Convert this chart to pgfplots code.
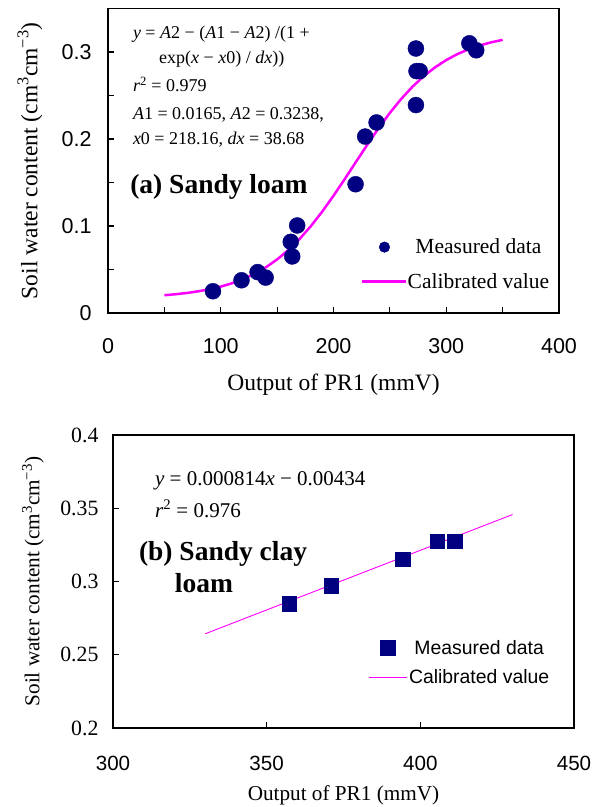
\documentclass[border=0pt]{standalone}
\usepackage{pgfplots}
\pgfplotsset{compat=1.18}
\usepackage{fontspec}
\setmainfont{Liberation Serif}
\newfontfamily\arial{Liberation Sans}
\definecolor{navy}{RGB}{0,0,128}
\definecolor{mag}{RGB}{255,0,255}
\pgfplotsset{
  leglineA/.style={legend image code/.code={\draw[##1] (0pt,0pt) -- (44pt,0pt);}},
  legmarkA/.style={legend image code/.code={\draw[##1, mark size=5.3pt] plot coordinates {(22pt,0pt)};}},
  leglineB/.style={legend image code/.code={\draw[##1] (0pt,0pt) -- (38pt,0pt);}},
  legmarkB/.style={legend image code/.code={\draw[##1] plot coordinates {(19pt,0pt)};}},
}
\begin{document}
\begin{tikzpicture}
\path[use as bounding box] (0,0) rectangle (597pt,807pt);
% ---------------- (a) Sandy loam ----------------
\begin{axis}[
  scale only axis, width=451pt, height=304.5pt,
  at={(108pt,494pt)}, anchor=south west,
  xmin=0, xmax=400, ymin=0, ymax=0.35,
  xtick={0,100,200,300,400}, xticklabels={0,100,200,300,400},
  minor xtick={50,150,250,350},
  ytick={0,0.1,0.2,0.3}, yticklabels={0,0.1,0.2,0.3},
  minor ytick={0.05,0.15,0.25},
  tick pos=left, tick align=inside,
  major tick length=6pt, minor tick length=6pt,
  axis line style={line width=1.3pt},
  tick style={line width=1.1pt, black},
  ticklabel style={font=\arial\fontsize{21.5}{24}\selectfont},
  xticklabel style={yshift=-22pt},
  yticklabel style={xshift=-13pt},
  xlabel={Output of PR1 (mmV)},
  ylabel={Soil water content (cm\textsuperscript{3}cm\textsuperscript{−3})},
  label style={font=\fontsize{23.5}{26}\selectfont},
  xlabel style={at={(axis description cs:0.5,-0.235)}, anchor=center},
  ylabel style={at={(axis description cs:-0.173,0.5)}, anchor=center},
  reverse legend,
  legend style={at={(axis description cs:0.561,0.244)}, anchor=north west,
    draw=none, fill=none, font=\fontsize{21.5}{24}\selectfont,
    row sep=18pt, column sep=0pt, inner sep=0pt, nodes={inner sep=0pt}},
]
\addplot[mag, line width=2.5pt, leglineA]
  coordinates {
  (50,0.02042)(60,0.02157)(70,0.02303)(80,0.02490)(90,0.02729)(100,0.03033)
  (110,0.03418)(120,0.03901)(130,0.04503)(140,0.05247)(150,0.06152)(160,0.07240)
  (170,0.08520)(180,0.09996)(190,0.11657)(200,0.13473)(210,0.15400)(220,0.17381)
  (230,0.19348)(240,0.21241)(250,0.23005)(260,0.24600)(270,0.26004)(280,0.27213)
  (290,0.28231)(300,0.29075)(310,0.29763)(320,0.30320)(330,0.30764)(340,0.31117)
  (350,0.31396)};
\addlegendentry{Calibrated value}
\addplot[only marks, mark=*, mark size=8pt, navy, legmarkA]
  coordinates {
  (93.1,0.0250)(118.4,0.0376)(132.7,0.0470)(139.8,0.0407)(162.1,0.0818)
  (163.4,0.0650)(167.8,0.1006)(219.6,0.1480)(228.1,0.2028)(238.2,0.2190)
  (273.1,0.3040)(273.6,0.2780)(276.5,0.2780)(273.1,0.2390)(320.5,0.3100)
  (326.6,0.3020)};
\addlegendentry{Measured data}
\begin{scope}[every node/.style={anchor=base west, inner sep=0pt, font=\fontsize{18}{20}\selectfont}]
\node at (axis description cs:0.055,0.903) {\textit{y} = \textit{A}2 − (\textit{A}1 − \textit{A}2) /(1 +};
\node at (axis description cs:0.113,0.821) {exp(\textit{x} − \textit{x}0) / \textit{dx}))};
\node at (axis description cs:0.055,0.726) {\textit{r}\textsuperscript{2} = 0.979};
\node at (axis description cs:0.055,0.637) {\textit{A}1 = 0.0165, \textit{A}2 = 0.3238,};
\node at (axis description cs:0.055,0.555) {\textit{x}0 = 218.16, \textit{dx} = 38.68};
\end{scope}
\node[anchor=west, inner sep=0pt, font=\bfseries\fontsize{27.5}{30}\selectfont]
  at (axis description cs:0.049,0.414) {(a) Sandy loam};
\end{axis}
% ---------------- (b) Sandy clay loam ----------------
\begin{axis}[
  scale only axis, width=461pt, height=293pt,
  at={(113pt,79pt)}, anchor=south west,
  xmin=300, xmax=450, ymin=0.2, ymax=0.4,
  xtick={300,350,400,450}, xticklabels={300,350,400,450},
  ytick={0.2,0.25,0.3,0.35,0.4}, yticklabels={0.2,0.25,0.3,0.35,0.4},
  tick pos=left, tick align=inside,
  major tick length=6pt,
  axis line style={line width=1.3pt},
  tick style={line width=1.1pt, black},
  xticklabel style={font=\arial\fontsize{20.6}{23}\selectfont, yshift=-25pt},
  yticklabel style={font=\fontsize{21.8}{24}\selectfont, xshift=-11pt},
  xlabel={Output of PR1 (mmV)},
  ylabel={Soil water content (cm\textsuperscript{3}cm\textsuperscript{−3})},
  label style={font=\fontsize{21.2}{24}\selectfont},
  xlabel style={at={(axis description cs:0.5,-0.229)}, anchor=center},
  ylabel style={at={(axis description cs:-0.1735,0.5)}, anchor=center},
  reverse legend,
  legend style={at={(axis description cs:0.553,0.301)}, anchor=north west,
    draw=none, fill=none, font=\arial\fontsize{19.4}{22}\selectfont,
    row sep=14pt, column sep=2pt, inner sep=0pt, nodes={inner sep=0pt}},
]
\addplot[mag, line width=0.9pt, leglineB]
  coordinates {(330,0.2643)(430,0.3457)};
\addlegendentry{Calibrated value}
\addplot[only marks, mark=square*, mark size=7.3pt, navy, legmarkB]
  coordinates {(357.3,0.2847)(371.0,0.2970)(394.3,0.3153)(405.5,0.3276)(411.1,0.3276)};
\addlegendentry{Measured data}
\begin{scope}[every node/.style={anchor=base west, inner sep=0pt, font=\fontsize{21}{23}\selectfont}]
\node at (axis description cs:0.091,0.829) {\textit{y} = 0.000814\textit{x} − 0.00434};
\node at (axis description cs:0.091,0.720) {\textit{r}\textsuperscript{2} = 0.976};
\end{scope}
\node[anchor=west, inner sep=0pt, font=\bfseries\fontsize{27.5}{30}\selectfont]
  at (axis description cs:0.056,0.594) {(b) Sandy clay};
\node[anchor=west, inner sep=0pt, font=\bfseries\fontsize{27.5}{30}\selectfont]
  at (axis description cs:0.134,0.495) {loam};
\end{axis}
\end{tikzpicture}
\end{document}
